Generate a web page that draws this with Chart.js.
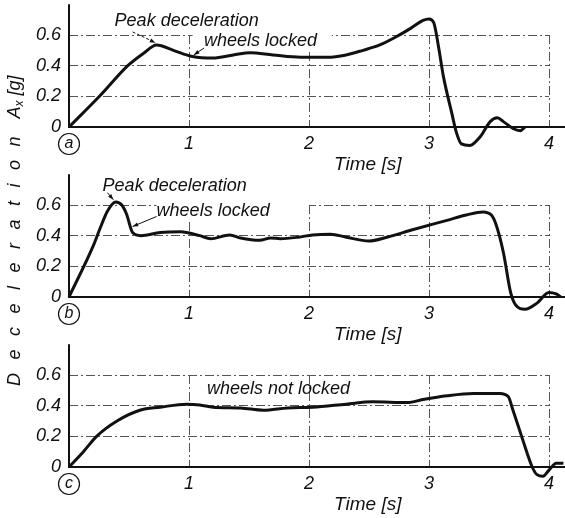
<!DOCTYPE html>
<html>
<head>
<meta charset="utf-8">
<script src="https://cdn.jsdelivr.net/npm/chart.js@4.4.0/dist/chart.umd.min.js"></script>
<style>
  html, body { margin: 0; padding: 0; background: #fff; }
  #wrap { position: relative; width: 565px; height: 518px; overflow: hidden; }
  .panel { position: absolute; left: 0; }
  #ylabel {
    position: absolute; left: 4px; top: 386px;
    transform-origin: 0 0; transform: rotate(-90deg);
    white-space: nowrap; line-height: 22px; color: #111;
    font: italic 18px "Liberation Sans", Arial, sans-serif;
  }
  #ylabel .spread { letter-spacing: 13.5px; }
  #ylabel sub { font-size: 12px; vertical-align: -3px; }
</style>
</head>
<body>
<div id="wrap">
  <canvas id="chartA" class="panel" style="top:0" width="565" height="180"></canvas>
  <canvas id="chartB" class="panel" style="top:170px" width="565" height="180"></canvas>
  <canvas id="chartC" class="panel" style="top:340px" width="565" height="178"></canvas>
  <div id="ylabel"><span class="spread">Deceleration</span> A<sub>x</sub> [g]</div>
</div>
<script>
// ---- data (time in s, deceleration in g) ----
const timeA  = [0, 0.26, 0.49, 0.62, 0.73, 0.87, 1.03, 1.2, 1.37, 1.51, 1.7, 1.93, 2.15, 2.31, 2.45, 2.59, 2.73, 2.85, 2.95, 3.0, 3.04, 3.08, 3.12, 3.19, 3.23, 3.27, 3.34, 3.43, 3.51, 3.57, 3.62, 3.7, 3.76, 3.8];
const decelA = [0, 0.205, 0.4, 0.48, 0.535, 0.5, 0.46, 0.45, 0.47, 0.485, 0.47, 0.455, 0.455, 0.47, 0.5, 0.535, 0.59, 0.645, 0.695, 0.705, 0.68, 0.52, 0.33, 0.09, -0.04, -0.11, -0.12, -0.06, 0.035, 0.06, 0.035, -0.01, -0.025, 0];

const timeB  = [0, 0.2, 0.26, 0.32, 0.39, 0.44, 0.48, 0.53, 0.6, 0.76, 0.93, 1.09, 1.18, 1.34, 1.43, 1.59, 1.68, 1.76, 1.91, 2.03, 2.18, 2.31, 2.5, 2.65, 2.87, 3.15, 3.31, 3.45, 3.52, 3.56, 3.62, 3.68, 3.72, 3.8, 3.9, 4.0, 4.06, 4.1];
const decelB = [0, 0.33, 0.45, 0.56, 0.62, 0.6, 0.54, 0.42, 0.4, 0.42, 0.425, 0.4, 0.38, 0.405, 0.385, 0.37, 0.385, 0.38, 0.39, 0.405, 0.41, 0.39, 0.365, 0.39, 0.44, 0.5, 0.535, 0.555, 0.535, 0.47, 0.29, 0.03, -0.05, -0.08, -0.04, 0.03, 0.02, 0];

const timeC  = [0, 0.12, 0.23, 0.4, 0.59, 0.76, 0.98, 1.09, 1.2, 1.43, 1.62, 1.82, 2.03, 2.31, 2.53, 2.82, 2.95, 3.15, 3.37, 3.59, 3.66, 3.7, 3.78, 3.86, 3.9, 3.95, 4.0, 4.06, 4.12];
const decelC = [0, 0.1, 0.2, 0.3, 0.37, 0.39, 0.41, 0.405, 0.39, 0.385, 0.37, 0.385, 0.39, 0.41, 0.425, 0.42, 0.44, 0.465, 0.48, 0.48, 0.46, 0.37, 0.18, 0, -0.05, -0.06, -0.02, 0.025, 0.025];

const timeTicks  = [0, 1, 2, 3, 4];
const decelTicks = [0, 0.2, 0.4, 0.6];
const panelTags  = ["a", "b", "c"];

const FONT = '"Liberation Sans", Arial, sans-serif';
const INK = "#111";

// draw notes, axis lines, circled tag and the time label
const panelDecor = {
    id: "panelDecor",
    beforeDatasetsDraw(chart, args, opts) {
        const { ctx, scales: { x, y } } = chart;
        ctx.save();
        ctx.font = "italic 18px " + FONT;
        ctx.textBaseline = "alphabetic";
        (opts.notes || []).forEach(n => {
            const px = x.getPixelForValue(n.x);
            const py = y.getPixelForValue(n.y);
            if (n.gap) {
                // text sits on top of the grid, hiding it
                const x0 = x.getPixelForValue(n.gap[0]);
                const x1 = x.getPixelForValue(n.gap[1]);
                ctx.fillStyle = "#fff";
                ctx.fillRect(x0, py - 18, x1 - x0, 24);
            }
            ctx.fillStyle = INK;
            ctx.fillText(n.text, px, py);
            if (n.arrow) {
                const ax = x.getPixelForValue(n.arrow[0]), ay = y.getPixelForValue(n.arrow[1]);
                const bx = x.getPixelForValue(n.arrow[2]), by = y.getPixelForValue(n.arrow[3]);
                ctx.strokeStyle = INK;
                ctx.lineWidth = 1;
                ctx.setLineDash(n.dashed ? [3, 2] : []);
                ctx.beginPath();
                ctx.moveTo(ax, ay);
                ctx.lineTo(bx, by);
                ctx.stroke();
                ctx.setLineDash([]);
                const ang = Math.atan2(by - ay, bx - ax);
                ctx.beginPath();
                ctx.moveTo(bx, by);
                ctx.lineTo(bx - 6 * Math.cos(ang - 0.35), by - 6 * Math.sin(ang - 0.35));
                ctx.lineTo(bx - 6 * Math.cos(ang + 0.35), by - 6 * Math.sin(ang + 0.35));
                ctx.closePath();
                ctx.fill();
            }
        });
        ctx.restore();
    },
    afterDatasetsDraw(chart, args, opts) {
        const { ctx, scales: { x, y } } = chart;
        const x0 = x.getPixelForValue(0);
        const y0 = y.getPixelForValue(0);
        ctx.save();
        ctx.strokeStyle = INK;
        ctx.lineWidth = 2;
        ctx.beginPath();
        ctx.moveTo(x0, y.getPixelForValue(0.8));
        ctx.lineTo(x0, y0);
        ctx.lineTo(chart.width, y0);
        ctx.stroke();

        // circled panel letter under the origin
        ctx.lineWidth = 1.2;
        ctx.beginPath();
        ctx.arc(x0, y0 + 17, 10.5, 0, Math.PI * 2);
        ctx.stroke();
        ctx.fillStyle = INK;
        ctx.font = "italic 16px " + FONT;
        ctx.textAlign = "center";
        ctx.textBaseline = "middle";
        ctx.fillText(opts.tag, x0, y0 + 17);

        ctx.font = "italic 19px " + FONT;
        ctx.fillText("Time [s]", x.getPixelForValue(2.49), y0 + 38);
        ctx.restore();
    }
};

function makePanel(canvasId, times, values, tag, notes) {
    const canvas = document.getElementById(canvasId);
    return new Chart(canvas.getContext("2d"), {
        type: "line",
        data: {
            datasets: [{
                data: times.map((t, i) => ({ x: t, y: values[i] })),
                borderColor: INK,
                borderWidth: 3,
                pointRadius: 0,
                cubicInterpolationMode: "monotone",
                clip: false,
                fill: false
            }]
        },
        options: {
            responsive: false,
            animation: false,
            layout: { padding: { top: 35, left: 0, right: 16, bottom: canvas.height - 170 } },
            plugins: {
                legend: { display: false },
                tooltip: { enabled: false },
                panelDecor: { tag: tag, notes: notes }
            },
            scales: {
                x: {
                    type: "linear",
                    afterDataLimits: s => { s.min = timeTicks[0]; s.max = timeTicks[timeTicks.length - 1]; },
                    afterFit: s => { s.height = 43; },
                    afterBuildTicks: s => { s.ticks = timeTicks.map(v => ({ value: v })); },
                    ticks: {
                        color: INK, padding: 6,
                        font: { family: FONT, size: 18, style: "italic" },
                        callback: v => (v === 0 ? "" : String(v))
                    },
                    grid: { color: "#555", lineWidth: 1, drawTicks: false },
                    border: { display: false, dash: [9, 3, 2, 3] }
                },
                y: {
                    min: 0,
                    max: 0.6,
                    afterFit: s => { s.width = 69; },
                    afterBuildTicks: s => { s.ticks = decelTicks.map(v => ({ value: v })); },
                    ticks: {
                        color: INK, padding: 8,
                        font: { family: FONT, size: 18, style: "italic" },
                        callback: v => (v === 0 ? "0" : v.toFixed(1))
                    },
                    grid: { color: "#555", lineWidth: 1, drawTicks: false },
                    border: { display: false, dash: [9, 3, 2, 3] }
                }
            }
        },
        plugins: [panelDecor]
    });
}

makePanel("chartA", timeA, decelA, panelTags[0], [
    { text: "Peak deceleration", x: 0.38, y: 0.66, arrow: [0.53, 0.62, 0.72, 0.55], dashed: true },
    { text: "wheels locked", x: 1.125, y: 0.53, gap: [1.03, 2.19], arrow: [1.125, 0.515, 1.04, 0.47] }
]);
makePanel("chartB", timeB, decelB, panelTags[1], [
    { text: "Peak deceleration", x: 0.28, y: 0.69, arrow: [0.32, 0.68, 0.37, 0.635] },
    { text: "wheels locked", x: 0.73, y: 0.53, gap: [0.73, 2.0], arrow: [0.73, 0.525, 0.53, 0.46] }
]);
makePanel("chartC", timeC, decelC, panelTags[2], [
    { text: "wheels not locked", x: 1.15, y: 0.477 }
]);
</script>
</body>
</html>
